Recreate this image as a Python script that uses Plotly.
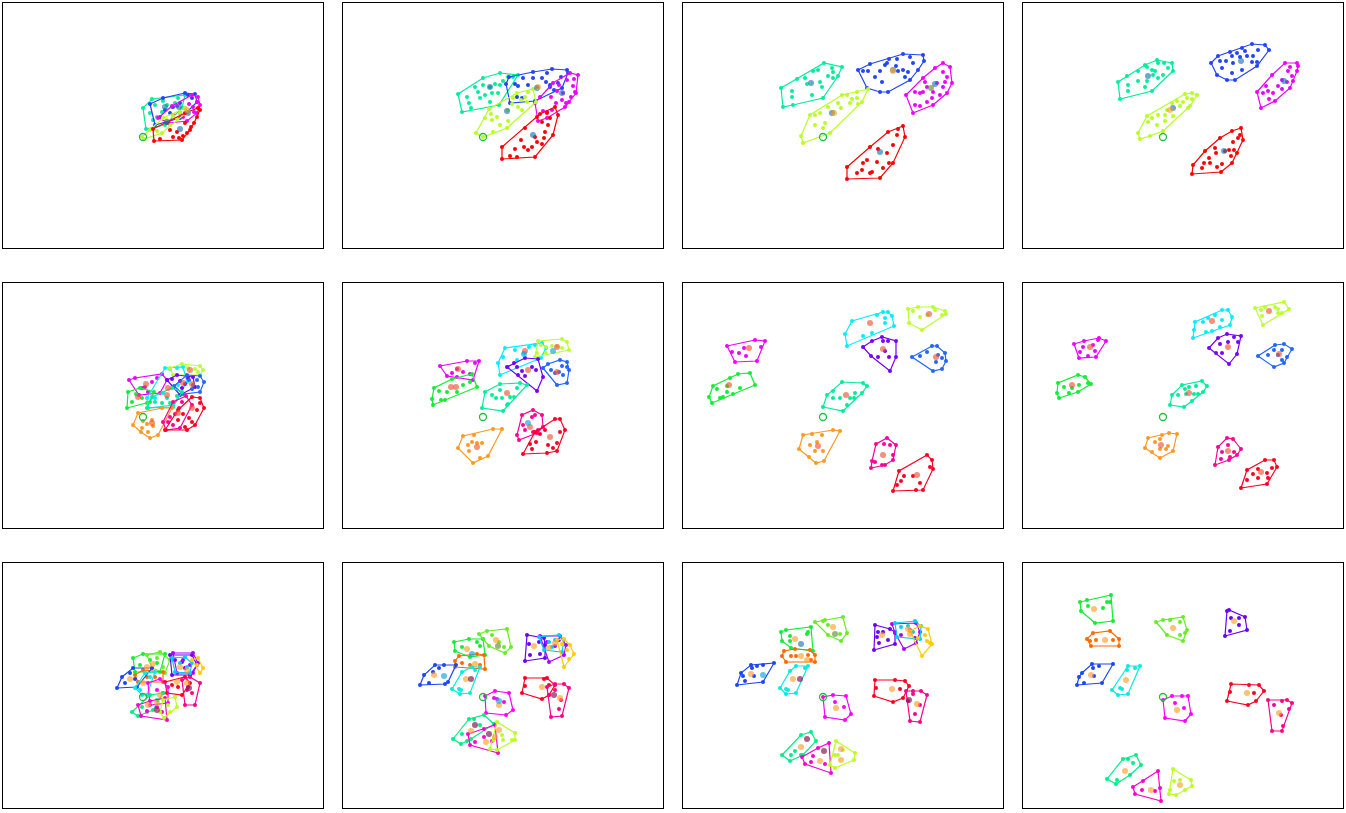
import plotly.graph_objects as go

# ---------------- colours per row (cluster name -> colour) ----------------
ROW1_COLORS = {"green": "#00ee99", "blue": "#2244ff", "magenta": "#ee00ff",
               "chartreuse": "#b8ff22", "red": "#ff0000"}
ROW2_COLORS = {"magenta": "#ee00ff", "green": "#11ee33", "cyan": "#00eeff",
               "chartreuse": "#bbff33", "violet": "#7700ff", "blue": "#2266ff",
               "spring": "#00ee99", "orange": "#ff9922", "rose": "#ff0099",
               "red": "#ff0022"}
ROW3_COLORS = {"green": "#11ee33", "lime": "#66ee22", "orange": "#ff6a00",
               "blue": "#1a44ff", "aqua": "#00eedd", "violet": "#6a00ff",
               "purple": "#aa00ff", "sky": "#00ccff", "gold": "#ffcc00",
               "red": "#ff0022", "rose": "#ff0088", "magenta": "#ff00ff",
               "spring": "#00ee88", "magenta2": "#ff00cc", "chartreuse": "#bbff22"}

MARK_COLORS = {"blue": "rgba(31,119,180,0.65)", "orange": "rgba(255,160,40,0.65)",
               "red": "rgba(240,85,50,0.65)", "dark": "rgba(130,30,90,0.7)",
               "cyan": "rgba(30,170,220,0.7)", "olive": "rgba(110,150,70,0.7)"}

# ---------------- row 1 ----------------
P11 = {
    "green": [(0,29),(3,8),(22,12),(39,29),(42,42),(9,38),(12,32),(20,36),(24,32),(19,25),(29,30),(32,34),(7,24),(10,17),(14,20),(35,39)],
    "blue": [(7,33),(12,12),(37,19),(54,35),(52,43),(42,44),(20,39),(22,27),(30,30),(45,42),(49,39),(37,34),(27,24),(17,20),(44,25)],
    "magenta": [(15,19),(26,14),(44,16),(54,24),(57,32),(55,40),(49,42),(29,31),(34,31),(37,24),(42,29),(46,33),(50,30),(51,25),(54,35),(40,20),(30,22)],
    "chartreuse": [(-1,0),(1,-2),(19,4),(44,25),(42,29),(20,19),(7,7),(14,6),(24,17),(30,21),(37,24),(27,12),(34,18)],
    "red": [(10,8),(11,-4),(39,-3),(47,7),(57,27),(55,29),(42,24),(24,14),(17,-2),(30,0),(36,-1),(40,1),(44,4),(48,10),(51,14),(54,20),(34,5),(27,7),(42,14)],
}
M11 = {"blue": [(22,30),(36,30),(45,24),(24,15),(37,8)], "orange": [(44,27)]}

P12 = {
    "green": [(-25,43),(-21,25),(16,32),(35,62),(17,64),(0,59),(-16,40),(-14,34),(-12,29),(-8,50),(-5,45),(0,52),(7,50),(9,44),(12,53),(17,52),(20,56),(25,60),(30,60),(15,44),(7,35),(2,42),(-3,39)],
    "blue": [(23,53),(27,34),(52,36),(67,50),(85,64),(84,67),(69,68),(50,65),(26,60),(32,53),(35,51),(40,59),(45,52),(50,59),(54,50),(59,59),(63,55),(64,64),(67,52),(71,47),(75,54),(78,60),(79,49),(34,40),(39,39)],
    "magenta": [(52,34),(55,16),(64,19),(82,30),(93,44),(95,62),(87,64),(70,54),(57,40),(60,26),(64,25),(69,27),(73,34),(79,37),(83,34),(86,35),(88,40),(90,51),(91,58),(92,45),(80,44),(74,46),(76,52),(84,57),(68,40)],
    "chartreuse": [(-7,4),(0,0),(24,9),(53,35),(50,48),(34,44),(6,28),(2,19),(8,23),(9,17),(14,20),(17,12),(25,27),(29,33),(30,39),(35,30),(38,37),(42,40),(44,35),(45,45),(39,27),(25,16),(10,5)],
    "red": [(19,-10),(19,-22),(52,-20),(70,2),(75,22),(72,30),(57,23),(54,20),(27,-19),(32,-12),(38,-3),(42,9),(45,-13),(49,-10),(52,0),(54,-5),(59,-7),(61,-1),(62,5),(65,12),(67,19),(64,24),(59,15),(41,-10),(34,-20)],
}
M12 = {"blue": [(7,50),(54,49),(79,44),(24,26),(50,2)], "orange": [(55,50)]}

P13 = {
    "green": [(-42,49),(-40,30),(0,39),(19,70),(1,74),(-26,58),(-18,59),(-10,66),(-5,67),(9,69),(10,65),(5,61),(15,61),(-16,53),(-3,55),(-1,50),(-31,46),(-31,40),(-11,42),(-30,32),(10,59)],
    "blue": [(35,67),(44,49),(57,45),(65,45),(87,57),(95,67),(101,76),(100,82),(80,83),(66,78),(47,73),(40,66),(45,66),(57,66),(52,60),(59,55),(62,72),(74,78),(75,66),(80,67),(85,65),(82,60),(87,80),(90,74),(73,71),(64,74)],
    "magenta": [(83,42),(90,24),(110,32),(124,44),(129,54),(127,70),(120,74),(112,69),(100,59),(92,45),(97,44),(100,45),(104,50),(110,45),(109,39),(114,54),(117,42),(120,50),(122,55),(124,60),(120,65),(92,32),(97,31),(104,35),(102,55)],
    "chartreuse": [(-22,1),(-20,-6),(7,4),(39,35),(45,48),(34,45),(19,42),(-13,22),(-8,22),(-3,24),(5,30),(15,34),(24,42),(27,34),(34,39),(35,33),(2,14),(-8,12),(0,9),(18,29),(29,38),(10,25)],
    "red": [(24,-30),(24,-42),(57,-41),(70,-26),(82,0),(80,11),(65,5),(47,-10),(34,-36),(39,-33),(44,-23),(55,-12),(64,-16),(66,-26),(70,-8),(74,2),(75,8),(54,-25),(47,-36),(60,-31),(49,-35),(40,-26)],
}
M13 = {"blue": [(-12,54),(70,67),(112,53),(9,24),(57,-15)], "orange": [(70,66),(11,24)], "olive": [(108,49)]}

P14 = {
    "green": [(-45,55),(-43,38),(-11,46),(10,66),(9,74),(-6,77),(-18,72),(-36,61),(-25,66),(-16,70),(-11,67),(-5,74),(1,74),(5,69),(0,62),(-5,59),(-10,62),(-16,56),(-18,50),(-25,56),(-35,52),(-35,46),(-8,66)],
    "blue": [(48,74),(54,62),(64,57),(72,57),(94,71),(106,87),(102,92),(89,93),(67,85),(55,81),(57,76),(63,76),(69,81),(70,74),(74,84),(77,80),(79,89),(82,86),(84,81),(89,75),(94,75),(90,81),(95,87),(69,64),(59,69),(79,67)],
    "magenta": [(94,45),(98,29),(112,36),(127,49),(135,71),(134,74),(122,74),(109,62),(100,44),(105,46),(106,38),(110,44),(115,51),(119,48),(124,55),(125,66),(129,61),(130,56),(134,66),(127,70),(103,51),(119,57)],
    "chartreuse": [(-25,4),(-23,-2),(0,6),(27,31),(34,42),(29,44),(22,43),(9,34),(-16,21),(-15,15),(-11,19),(-6,12),(-5,22),(2,22),(4,27),(10,21),(14,36),(17,31),(20,35),(24,39),(29,38),(25,29),(-13,1),(2,16)],
    "red": [(30,-28),(29,-37),(58,-35),(74,-16),(80,-3),(78,9),(69,6),(57,-1),(42,-14),(39,-31),(41,-26),(47,-26),(46,-21),(52,-11),(53,-16),(54,-30),(59,-27),(62,-14),(66,-13),(68,-19),(71,-13),(70,-5),(75,-1),(77,2),(69,-26)],
}
M14 = {"blue": [(-15,61),(78,76),(121,56),(10,29),(61,-14)], "orange": [(7,27)]}

# ---------------- row 2 ----------------
P21 = {
    "magenta": [(-14,37),(-4,22),(17,24),(24,37),(19,43),(-8,39),(2,30),(9,35),(14,39),(5,25),(-1,29)],
    "green": [(-16,9),(7,15),(11,25),(-3,29),(-15,25),(-11,15),(-7,23),(-1,19),(4,14)],
    "cyan": [(22,49),(40,50),(44,35),(30,12),(5,9),(4,19),(27,48),(34,49),(12,19),(20,24),(35,32)],
    "chartreuse": [(27,49),(30,42),(57,42),(60,47),(57,51),(39,53),(45,49),(52,48),(55,45)],
    "violet": [(24,37),(37,22),(52,30),(50,40),(34,42),(29,38),(37,36),(42,33),(45,39),(39,29)],
    "blue": [(31,31),(40,23),(57,25),(61,35),(57,41),(44,42),(46,37),(50,32),(54,37),(49,28),(55,30)],
    "spring": [(4,9),(30,10),(39,25),(29,29),(9,20),(12,15),(19,14),(24,19),(27,14),(34,21)],
    "orange": [(-10,-8),(-2,-15),(7,-21),(15,-18),(29,9),(19,9),(-5,4),(0,-4),(4,-7),(9,-3),(10,-9),(5,-15),(-1,-11)],
    "rose": [(20,-5),(23,-13),(37,-11),(49,12),(43,21),(30,15),(27,0),(32,3),(36,9),(39,15),(30,-8),(25,-5)],
    "red": [(22,-13),(44,-13),(52,-8),(61,9),(57,19),(49,20),(35,7),(35,-3),(40,3),(46,-1),(49,-5),(54,7),(57,14),(42,-10)],
}
M21 = {"red": [(3,33),(-5,20),(25,29),(47,47),(40,34),(49,33),(24,22),(9,-6),(35,4),(49,9)]}

P22 = {
    "magenta": [(-43,51),(-36,41),(-10,37),(-4,56),(-16,56),(-31,44),(-26,48),(-20,45),(-13,43),(-26,40),(-8,54)],
    "green": [(-51,18),(-50,12),(-6,30),(-11,43),(-31,38),(-49,29),(-44,26),(-42,17),(-38,17),(-36,25),(-26,25),(-20,32),(-13,35)],
    "cyan": [(17,42),(25,50),(58,59),(63,69),(59,74),(22,69),(15,54),(20,60),(32,67),(41,64),(46,70),(52,72),(34,57)],
    "chartreuse": [(52,60),(63,64),(86,67),(84,75),(79,78),(55,76),(58,72),(63,70),(69,71),(74,71),(79,69),(54,64)],
    "violet": [(24,50),(54,26),(60,40),(55,58),(42,59),(31,54),(34,50),(39,46),(42,41),(49,50),(53,47),(35,42)],
    "blue": [(60,49),(74,32),(84,34),(86,47),(84,55),(77,57),(65,53),(68,47),(72,44),(76,45),(79,51),(80,42),(84,50)],
    "spring": [(-1,9),(20,6),(24,12),(44,32),(37,34),(17,33),(2,25),(9,22),(13,19),(17,27),(19,19),(27,20),(31,20),(25,13),(34,29)],
    "orange": [(-25,-31),(-10,-46),(5,-39),(19,-12),(10,-12),(-20,-19),(-15,-28),(-11,-25),(-6,-26),(-1,-26),(-3,-41),(-14,-34),(-9,-18)],
    "rose": [(34,-18),(36,-23),(54,-16),(60,-10),(59,2),(50,7),(39,2),(40,-8),(49,0),(52,2),(50,-15),(55,-13),(42,-13)],
    "red": [(40,-37),(64,-36),(74,-34),(82,-13),(77,-2),(72,-2),(52,-15),(47,-27),(49,-32),(53,-25),(57,-17),(62,-13),(70,-31),(74,-26),(77,-15),(65,-28)],
}
M22 = {"red": [(-25,48),(-32,30),(-27,30),(42,66),(74,70),(45,47),(74,45),(24,24),(-6,-30),(47,-10),(67,-20)],
       "cyan": [(41,63),(70,66),(45,-6)]}

P23 = {
    "magenta": [(-96,71),(-88,55),(-66,56),(-58,76),(-68,77),(-91,65),(-84,64),(-79,69),(-77,61),(-62,70)],
    "green": [(-114,20),(-111,14),(-68,32),(-73,44),(-85,43),(-110,31),(-106,28),(-103,19),(-100,20),(-96,31),(-96,25),(-90,23),(-83,29),(-93,39)],
    "cyan": [(24,71),(71,91),(69,101),(65,105),(60,105),(29,96),(22,83),(40,81),(49,84),(62,99),(62,94),(54,102)],
    "chartreuse": [(85,108),(86,94),(99,87),(123,103),(122,106),(110,110),(95,110),(90,106),(97,100),(104,102),(112,107),(119,102)],
    "violet": [(40,70),(67,46),(73,60),(73,76),(59,80),(49,76),(48,61),(55,60),(60,76),(62,66),(65,76),(66,60)],
    "blue": [(89,60),(110,46),(119,48),(123,56),(122,64),(114,71),(109,71),(97,61),(104,65),(115,62),(113,55),(119,59)],
    "spring": [(0,10),(20,6),(44,31),(40,34),(19,35),(4,22),(10,26),(17,19),(27,19),(31,19),(32,24),(39,24),(24,12),(10,19)],
    "orange": [(-24,-32),(-14,-40),(-7,-46),(1,-44),(17,-14),(10,-13),(-11,-17),(-20,-18),(-13,-28),(-6,-25),(-8,-34),(0,-34),(-1,-18)],
    "rose": [(48,-51),(62,-48),(70,-43),(73,-28),(64,-21),(53,-27),(49,-44),(52,-45),(61,-27),(67,-28),(70,-38),(59,-48)],
    "red": [(70,-74),(100,-73),(110,-52),(109,-43),(104,-38),(76,-54),(74,-68),(78,-64),(81,-59),(90,-59),(97,-66),(107,-50),(93,-73)],
}
M23 = {"red": [(-74,69),(-94,32),(47,94),(106,103),(60,68),(113,60),(23,22),(-5,-29),(60,-38),(94,-58)]}

P24 = {
    "magenta": [(-89,73),(-84,59),(-67,60),(-57,76),(-64,79),(-79,76),(-80,70),(-70,72),(-68,66),(-75,61),(-65,77),(-83,65)],
    "green": [(-106,24),(-104,19),(-72,33),(-78,40),(-85,42),(-105,34),(-99,30),(-91,29),(-84,32),(-94,24),(-85,25),(-75,34)],
    "cyan": [(30,79),(67,92),(69,100),(65,107),(59,107),(32,95),(40,95),(45,99),(52,102),(59,97),(43,85),(49,86),(57,90),(31,87)],
    "chartreuse": [(92,109),(100,92),(119,104),(126,108),(121,115),(102,110),(98,107),(112,110),(115,108),(115,104),(99,101)],
    "violet": [(46,69),(66,53),(74,63),(78,81),(64,83),(55,79),(53,64),(59,64),(65,75),(71,80),(75,75),(57,73)],
    "blue": [(95,61),(111,50),(121,54),(129,68),(121,73),(112,72),(105,62),(111,67),(115,62),(119,67),(119,57),(124,60)],
    "spring": [(7,12),(21,10),(40,25),(44,31),(39,36),(19,32),(9,22),(15,22),(23,23),(26,30),(31,23),(33,31),(35,23),(29,16),(22,28)],
    "orange": [(-18,-31),(-11,-35),(-3,-41),(10,-34),(14,-17),(6,-16),(-15,-21),(-8,-25),(-3,-22),(-3,-32),(3,-32),(5,-29),(-1,-18)],
    "rose": [(52,-48),(66,-43),(74,-38),(78,-32),(70,-22),(64,-21),(55,-30),(59,-35),(65,-28),(67,-40),(71,-35),(58,-42)],
    "red": [(78,-71),(104,-67),(114,-50),(111,-43),(102,-43),(84,-53),(84,-63),(90,-57),(95,-52),(95,-61),(104,-56),(109,-51),(105,-61)],
}
M24 = {"red": [(-73,70),(-91,32),(49,96),(106,106),(65,70),(116,63),(26,24),(-2,-28),(65,-34),(98,-55)]}

# ---------------- row 3 ----------------
P31 = {
    "green": [(-10,39),(-8,25),(17,25),(22,43),(0,43),(-3,32),(7,37),(14,34)],
    "lime": [(4,42),(9,29),(22,24),(27,37),(17,45),(14,39),(20,30)],
    "orange": [(-8,22),(-5,15),(20,15),(20,25),(0,27),(4,20),(12,20)],
    "blue": [(-26,9),(-6,10),(9,29),(-10,29),(-21,20),(-18,14),(-13,24),(-8,18)],
    "aqua": [(-8,9),(-1,2),(4,2),(12,25),(2,24),(-3,7),(7,20)],
    "violet": [(27,42),(29,22),(47,22),(54,32),(49,42),(32,37),(39,35),(42,29)],
    "purple": [(30,44),(34,24),(50,24),(55,34),(50,44),(40,37),(47,32)],
    "sky": [(29,39),(32,25),(47,24),(49,34),(42,40),(37,34),(44,30)],
    "gold": [(49,37),(57,24),(60,29),(55,39),(54,32)],
    "red": [(22,15),(24,4),(39,2),(47,14),(42,20),(29,12),(35,10)],
    "rose": [(39,17),(42,-8),(52,-8),(57,14),(47,20),(45,10),(49,4),(44,7)],
    "magenta": [(5,14),(7,-8),(25,-6),(25,10),(17,18),(14,7),(20,4)],
    "spring": [(-11,-15),(-5,-19),(10,-13),(20,4),(7,2),(-1,-10),(4,-15),(14,-3)],
    "magenta2": [(-5,-8),(-2,-19),(24,-23),(22,-1),(7,-4),(4,-14),(14,-10),(19,-15)],
    "chartreuse": [(17,-15),(21,-21),(34,-10),(32,0),(20,-3),(25,-8),(27,-15)],
}
M31 = {"orange": [(4,30),(-13,18),(0,14),(37,30),(44,27),(34,15),(44,14),(17,2),(5,-8),(14,-6),(10,33)],
       "dark": [(46,9),(14,-13)]}

P32 = {
    "green": [(-29,55),(-28,46),(-13,40),(2,42),(0,58),(-14,58),(-21,50),(-6,55),(-3,51)],
    "lime": [(-4,63),(6,51),(22,44),(28,50),(24,68),(4,66),(9,62),(21,50),(16,55)],
    "orange": [(-28,36),(-28,30),(2,28),(1,42),(-6,43),(-24,41),(-21,34),(-13,32),(-3,32)],
    "blue": [(-63,12),(-35,15),(-27,32),(-39,32),(-48,32),(-59,22),(-54,14),(-50,25),(-44,29),(-38,13)],
    "aqua": [(-31,8),(-23,3),(-13,4),(-3,30),(-11,30),(-21,25),(-24,8),(-22,7),(-8,27)],
    "violet": [(42,36),(62,39),(62,52),(61,59),(44,62),(46,53),(47,42),(56,55),(57,43)],
    "purple": [(57,61),(66,35),(81,42),(83,52),(77,61),(64,55),(72,51),(76,57)],
    "sky": [(56,60),(61,47),(79,45),(81,57),(76,62),(66,55),(72,57),(69,50)],
    "gold": [(74,57),(81,30),(91,43),(87,52),(81,58),(84,47),(79,53),(86,38)],
    "red": [(39,4),(59,-2),(66,2),(72,12),(64,19),(42,19),(42,11),(66,12),(61,18)],
    "rose": [(64,10),(68,-20),(79,-19),(86,9),(81,13),(72,13),(66,2),(72,7),(78,-3),(76,-12)],
    "magenta": [(2,1),(3,-16),(23,-18),(30,-13),(26,4),(12,6),(11,-1),(21,-5),(14,-2)],
    "spring": [(-30,-42),(-22,-47),(-12,-42),(11,-27),(1,-18),(-14,-22),(-21,-37),(-9,-22),(-3,-28),(-16,-44)],
    "magenta2": [(-15,-37),(-13,-48),(15,-56),(12,-28),(1,-32),(-8,-45),(9,-44),(1,-40)],
    "chartreuse": [(7,-52),(14,-53),(32,-43),(32,-36),(14,-25),(19,-38),(20,-43),(29,-43),(11,-43)],
}
M32 = {"orange": [(-16,48),(13,57),(-8,33),(-49,22),(-17,18),(51,51),(72,54),(66,49),(59,10),(77,-1),(16,-8),(-12,-34),(3,-45),(12,-40),(16,-33)],
       "dark": [(-12,18),(71,2),(-8,-28),(6,-37)], "olive": [(15,51)],
       "cyan": [(-11,43),(-39,21),(16,-4)]}

P33 = {
    "green": [(-42,65),(-41,56),(-32,49),(-10,46),(-12,70),(-37,67),(-15,65),(-16,63),(-33,61),(-33,56)],
    "lime": [(-8,75),(5,62),(18,56),(24,64),(20,80),(2,77),(0,76),(17,63),(5,72)],
    "orange": [(-41,41),(-37,35),(-8,35),(-8,42),(-13,47),(-28,48),(-39,46),(-32,41),(-27,41),(-15,42),(-12,37)],
    "blue": [(-86,12),(-60,15),(-49,34),(-60,32),(-72,32),(-82,24),(-80,21),(-78,16),(-71,29),(-66,31),(-69,21)],
    "aqua": [(-43,9),(-37,3),(-27,4),(-15,31),(-27,31),(-33,26),(-37,8),(-35,7),(-18,29)],
    "violet": [(51,47),(72,53),(72,65),(67,68),(52,72),(54,60),(56,54),(60,65),(65,57),(55,65)],
    "purple": [(69,73),(81,48),(93,54),(97,65),(93,74),(72,64),(78,62),(87,67),(92,59)],
    "sky": [(72,74),(74,60),(97,58),(98,71),(92,76),(78,70),(85,71),(90,65)],
    "gold": [(87,66),(99,41),(109,53),(105,68),(97,71),(102,62),(104,56),(95,59),(107,54)],
    "red": [(51,1),(70,-5),(80,-1),(86,11),(82,16),(72,17),(52,17),(53,9),(77,8)],
    "rose": [(83,6),(87,-24),(97,-25),(104,2),(98,6),(90,6),(85,-4),(90,3),(97,-8),(92,-17)],
    "magenta": [(0,0),(2,-20),(22,-23),(28,-17),(23,1),(10,2),(12,-5),(21,-10)],
    "spring": [(-41,-58),(-33,-64),(-20,-58),(-7,-44),(-12,-35),(-22,-38),(-32,-58),(-22,-58),(-28,-54)],
    "magenta2": [(-21,-60),(-18,-67),(8,-76),(6,-46),(-5,-51),(-12,-65),(2,-67),(-10,-59)],
    "chartreuse": [(7,-68),(12,-71),(31,-63),(32,-56),(13,-44),(15,-58),(20,-53),(12,-58)],
}
M33 = {"orange": [(-28,58),(10,70),(-22,41),(-16,37),(-72,23),(-30,18),(59,62),(87,63),(85,68),(69,8),(94,-7),(13,-11),(-22,-50),(-3,-64),(18,-63),(18,-52)],
       "dark": [(-23,18),(86,-3),(-16,-42),(1,-54)], "blue": [(-22,53)], "cyan": [(-60,22)], "olive": [(12,63)]}

P34 = {
    "green": [(-83,95),(-82,86),(-68,74),(-50,76),(-52,102),(-76,97),(-75,91),(-60,89),(-56,95),(-53,95)],
    "orange": [(-76,58),(-72,51),(-44,51),(-44,58),(-53,66),(-70,64),(-73,56),(-67,57),(-50,57)],
    "lime": [(-7,75),(4,62),(20,56),(24,67),(20,80),(0,77),(7,77),(17,75),(22,64),(17,62)],
    "violet": [(64,86),(62,61),(84,67),(82,80),(66,87),(68,79),(76,79),(67,66),(76,72)],
    "blue": [(-86,12),(-61,14),(-50,33),(-71,33),(-81,24),(-84,20),(-79,14),(-70,29),(-64,31),(-69,21)],
    "aqua": [(-51,7),(-45,2),(-35,3),(-23,31),(-35,31),(-36,27),(-43,9),(-41,8),(-28,29)],
    "red": [(64,-4),(85,-8),(93,-4),(101,6),(96,12),(68,13),(67,5),(91,4),(86,12)],
    "rose": [(105,-3),(109,-34),(119,-34),(126,-12),(129,-6),(124,-3),(111,-8),(119,-4),(118,-18),(120,-29)],
    "magenta": [(0,-3),(2,-21),(22,-24),(28,-17),(25,1),(9,1),(12,-6),(21,-11),(19,1)],
    "spring": [(-56,-82),(-47,-87),(-33,-78),(-22,-68),(-27,-58),(-40,-62),(-46,-83),(-35,-62),(-30,-66)],
    "magenta2": [(-30,-90),(-28,-97),(-2,-104),(-5,-74),(-20,-84),(-21,-93),(-8,-94),(-3,-91)],
    "chartreuse": [(6,-97),(13,-98),(29,-89),(28,-83),(10,-72),(11,-84),(17,-83),(22,-93),(7,-93)],
}
M34 = {"orange": [(-69,88),(-58,57),(10,69),(71,76),(-72,22),(-37,17),(84,4),(116,-16),(14,-13),(-38,-74),(-12,-93),(17,-88)]}

ORIGIN = (0, 0)
X_RANGE = [-140, 180]
Y_RANGE = [-111, 134]

PANELS = [
    [(P11, M11), (P12, M12), (P13, M13), (P14, M14)],
    [(P21, M21), (P22, M22), (P23, M23), (P24, M24)],
    [(P31, M31), (P32, M32), (P33, M33), (P34, M34)],
]
ROW_COLORS = [ROW1_COLORS, ROW2_COLORS, ROW3_COLORS]


def convex_hull(pts):
    pts = sorted(set(pts))
    if len(pts) < 3:
        return pts

    def cross(o, a, b):
        return (a[0] - o[0]) * (b[1] - o[1]) - (a[1] - o[1]) * (b[0] - o[0])

    lower = []
    for p in pts:
        while len(lower) >= 2 and cross(lower[-2], lower[-1], p) <= 0:
            lower.pop()
        lower.append(p)
    upper = []
    for p in reversed(pts):
        while len(upper) >= 2 and cross(upper[-2], upper[-1], p) <= 0:
            upper.pop()
        upper.append(p)
    return lower[:-1] + upper[:-1]


W, H = 1346, 813
fig = go.Figure()
layout = dict(width=W, height=H, margin=dict(l=0, r=0, t=0, b=0),
              paper_bgcolor="white", plot_bgcolor="white", showlegend=False)

for r, row in enumerate(PANELS):
    colors = ROW_COLORS[r]
    for c, (pts_dict, marks) in enumerate(row):
        idx = r * 4 + c + 1
        xa = "x" if idx == 1 else f"x{idx}"
        ya = "y" if idx == 1 else f"y{idx}"
        left = 3 + 340 * c
        top = 3 + 280 * r
        layout[f"xaxis{'' if idx == 1 else idx}"] = dict(
            domain=[left / W, (left + 320) / W], range=X_RANGE, anchor=ya,
            showline=True, mirror=True, linecolor="black", linewidth=1,
            showticklabels=False, ticks="", showgrid=False, zeroline=False, fixedrange=True)
        layout[f"yaxis{'' if idx == 1 else idx}"] = dict(
            domain=[1 - (top + 245) / H, 1 - top / H], range=Y_RANGE, anchor=xa,
            showline=True, mirror=True, linecolor="black", linewidth=1,
            showticklabels=False, ticks="", showgrid=False, zeroline=False, fixedrange=True)

        for name, pts in pts_dict.items():
            col = colors[name]
            hull = convex_hull(pts)
            hull = hull + [hull[0]]
            fig.add_trace(go.Scatter(x=[p[0] for p in hull], y=[p[1] for p in hull],
                                     mode="lines", line=dict(color=col, width=1.2),
                                     xaxis=xa, yaxis=ya, hoverinfo="skip"))
            fig.add_trace(go.Scatter(x=[p[0] for p in pts], y=[p[1] for p in pts],
                                     mode="markers", marker=dict(color=col, size=4),
                                     xaxis=xa, yaxis=ya, hoverinfo="skip"))
        for kind, mpts in marks.items():
            fig.add_trace(go.Scatter(x=[p[0] for p in mpts], y=[p[1] for p in mpts],
                                     mode="markers",
                                     marker=dict(color=MARK_COLORS[kind], size=6),
                                     xaxis=xa, yaxis=ya, hoverinfo="skip"))
        fig.add_trace(go.Scatter(x=[ORIGIN[0]], y=[ORIGIN[1]], mode="markers",
                                 marker=dict(symbol="circle-open", color="#22bb44", size=7,
                                             line=dict(width=1.3)),
                                 xaxis=xa, yaxis=ya, hoverinfo="skip"))

fig.update_layout(**layout)
fig.write_html("out.html")
